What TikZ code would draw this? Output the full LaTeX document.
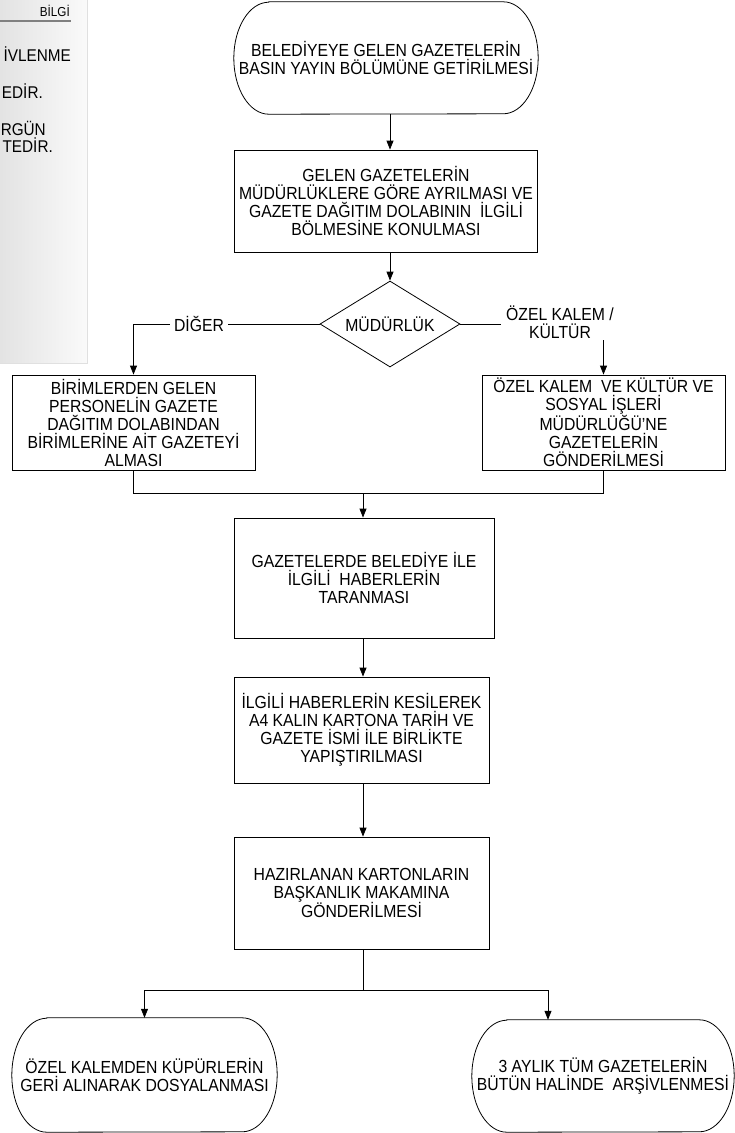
\documentclass[tikz,border=0pt]{standalone}
\usepackage{fontspec}
\setmainfont[FakeStretch=0.9]{Liberation Sans}
\usetikzlibrary{shapes.geometric,arrows.meta,calc}

\tikzset{
  yazi/.style={font=\fontsize{17.5}{18}\selectfont, align=center},
  kutu/.style={yazi, draw, line width=0.8pt, inner sep=0pt},
  karar/.style={yazi, diamond, draw, line width=0.8pt, inner sep=0pt, aspect=1.6,
    minimum width=140pt, minimum height=86pt},
  etiket/.style={yazi, fill=white, inner xsep=4pt, inner ysep=2pt},
  ok/.style={line width=0.8pt, ->},
  hat/.style={line width=0.8pt},
  yan/.style={font=\fontsize{17}{18}\selectfont, anchor=east, inner sep=0pt}
}

% uc: name, position, width, height, text
\newcommand{\uc}[5]{%
  \node[yazi, minimum width=#3pt, minimum height=#4pt, inner sep=0pt] (#1) at #2 {#5};
  \draw[hat] ($(#1.north west)+(35,0)$) -- ($(#1.north east)+(-35,0)$)
    arc[start angle=-90, end angle=90, x radius=35, y radius=#4/2]
    -- ($(#1.south west)+(35,0)$)
    arc[start angle=90, end angle=270, x radius=35, y radius=#4/2] -- cycle;
}

\begin{document}
\begin{tikzpicture}[x=1pt, y=-1pt, >={Triangle[length=9pt,width=7pt]}]
  \useasboundingbox (0,0) rectangle (735,1133);

  % side panel
  \shade[left color=black!11, right color=black!2] (0,0) rectangle (87,363);
  \draw[black!12] (87,0) -- (87,363) -- (0,363);
  \begin{scope}
    \clip (0,0) rectangle (87,363);
    \node[font=\fontsize{13}{14}\selectfont, anchor=south east, inner sep=0pt] (bilgi) at (70,17) {BİLGİ};
    \draw[black!50, line width=1.2pt] (0,21) -- (71,21);
    \node[yan] (yan1) at (71,54) {İVLENME};
    \node[yan] (yan2) at (43,91) {EDİR.};
    \node[yan] (yan3) at (46,128) {RGÜN};
    \node[yan] (yan4) at (53,145) {TEDİR.};
  \end{scope}

  % flow
  \uc{bas}{(386,58)}{304}{112}{BELEDİYEYE GELEN GAZETELERİN\\BASIN YAYIN BÖLÜMÜNE GETİRİLMESİ}
  \node[kutu, minimum width=303pt, minimum height=102pt] (ayir) at (386,201)
    {GELEN GAZETELERİN\\MÜDÜRLÜKLERE GÖRE AYRILMASI VE\\GAZETE DAĞITIM DOLABININ~ İLGİLİ\\BÖLMESİNE KONULMASI};
  \node[karar] (mud) at (390,324) {MÜDÜRLÜK};
  \node[kutu, minimum width=243pt, minimum height=95pt] (birim) at (133.5,422.5)
    {BİRİMLERDEN GELEN\\PERSONELİN GAZETE\\DAĞITIM DOLABINDAN\\BİRİMLERİNE AİT GAZETEYİ\\ALMASI};
  \node[kutu, minimum width=243pt, minimum height=95pt] (ozel) at (603.5,422.5)
    {ÖZEL KALEM~ VE KÜLTÜR VE\\SOSYAL İŞLERİ\\MÜDÜRLÜĞÜ'NE\\GAZETELERİN\\GÖNDERİLMESİ};
  \node[kutu, minimum width=260pt, minimum height=120pt] (tara) at (364,578)
    {GAZETELERDE BELEDİYE İLE\\İLGİLİ~ HABERLERİN\\TARANMASI};
  \node[kutu, minimum width=255pt, minimum height=106pt] (kes) at (361.5,730)
    {İLGİLİ HABERLERİN KESİLEREK\\A4 KALIN KARTONA TARİH VE\\GAZETE İSMİ İLE BİRLİKTE\\YAPIŞTIRILMASI};
  \node[kutu, minimum width=255pt, minimum height=112pt] (hazir) at (361.5,893)
    {HAZIRLANAN KARTONLARIN\\BAŞKANLIK MAKAMINA\\GÖNDERİLMESİ};
  \uc{kupur}{(144.5,1075)}{265}{114}{ÖZEL KALEMDEN KÜPÜRLERİN\\GERİ ALINARAK DOSYALANMASI}
  \uc{arsiv}{(603,1076)}{262}{112}{3 AYLIK TÜM GAZETELERİN\\BÜTÜN HALİNDE~ ARŞİVLENMESİ}

  \coordinate (birles) at (363,493);
  \coordinate (dal) at (363,990);
  \coordinate (arsivgir) at ($(arsiv.north)+(-55,0)$);

  % connectors
  \draw[ok] (bas.south -| mud.north) -- (ayir.north -| mud.north);
  \draw[ok] (ayir.south -| mud.north) -- (mud.north);
  \draw[ok] (mud.west) -| (birim.north);
  \draw[ok] (mud.east) -| (ozel.north);
  \node[etiket] (diger) at (199,324) {DİĞER};
  \node[etiket, inner xsep=5pt] (ozlbl) at (560,322) {ÖZEL KALEM /\\KÜLTÜR};
  \draw[hat] (birim.south) |- (birles);
  \draw[hat] (ozel.south) |- (birles);
  \draw[ok] (birles) -- (birles |- tara.north);
  \draw[ok] (tara.south -| birles) -- (kes.north -| birles);
  \draw[ok] (kes.south -| birles) -- (hazir.north -| birles);
  \draw[hat] (hazir.south -| dal) -- (dal);
  \draw[ok] (dal) -| (kupur.north);
  \draw[ok] (dal) -| (arsivgir);
\end{tikzpicture}
\end{document}
